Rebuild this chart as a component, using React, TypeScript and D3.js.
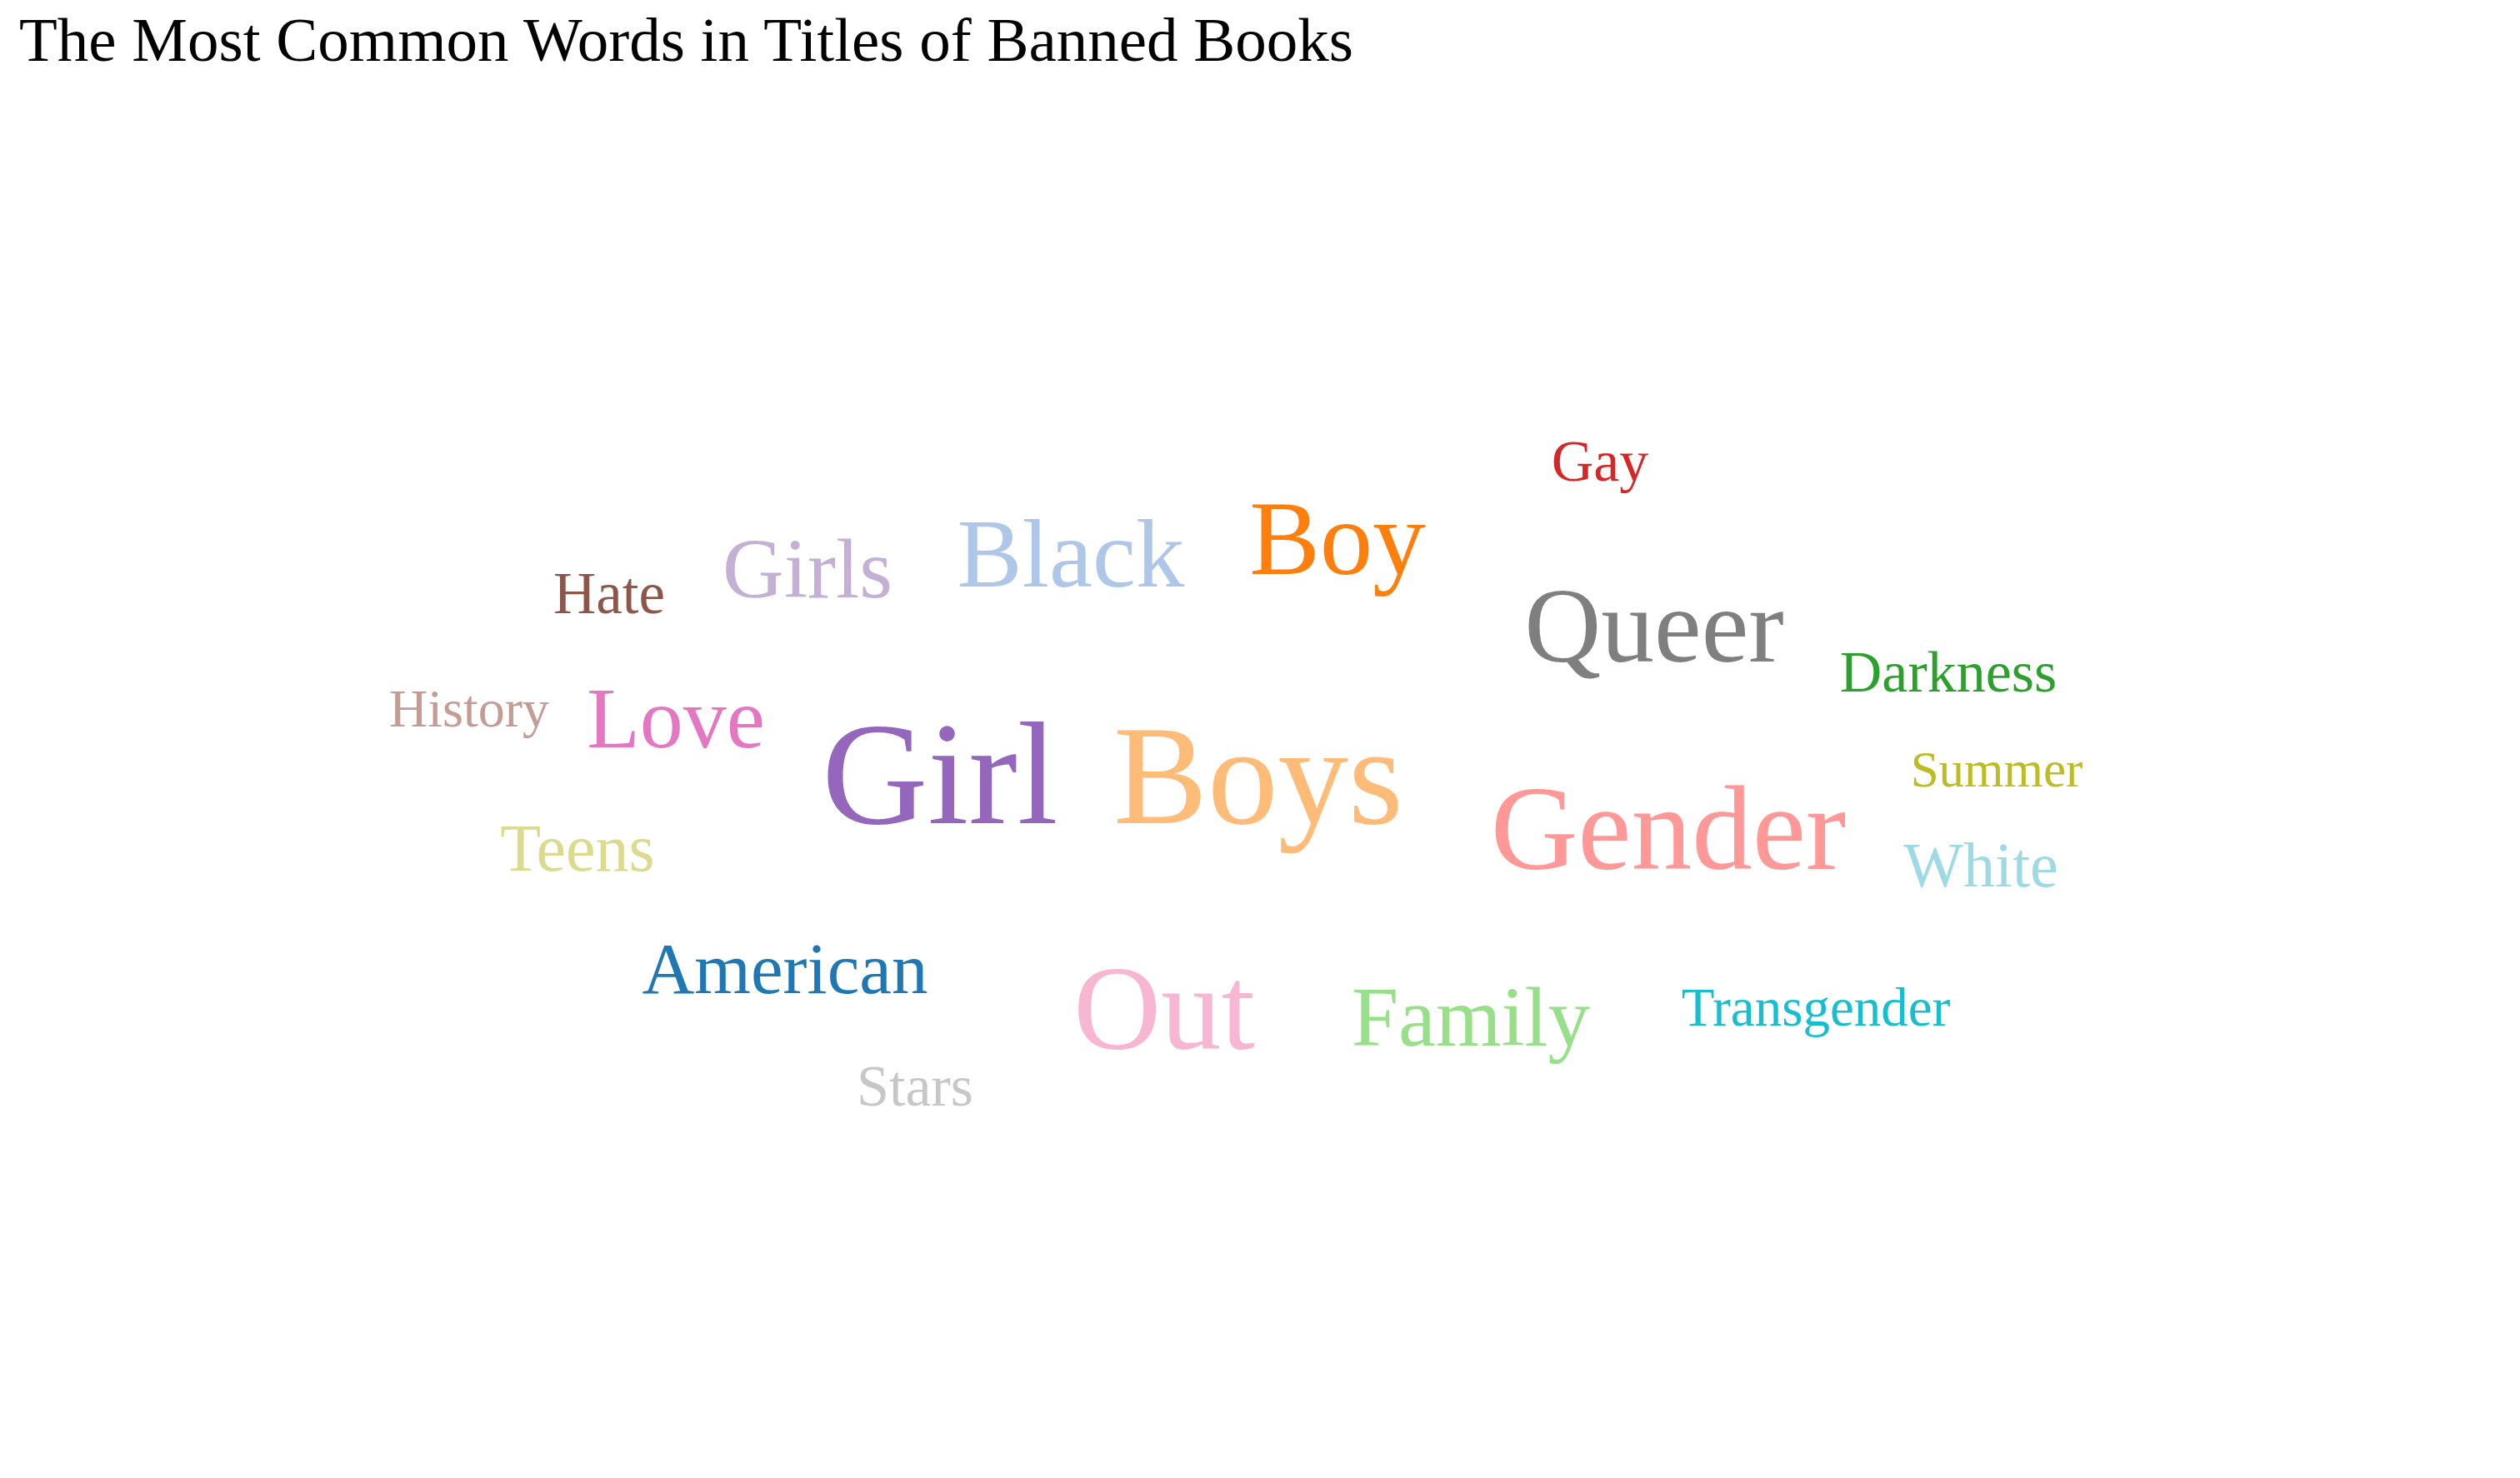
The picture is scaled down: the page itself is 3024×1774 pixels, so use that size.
import React, { useEffect, useRef } from 'react';
import * as d3 from 'd3';

// words in the cloud (alphabetical, coloured by index with category20)
const words = [
    'American', 'Black', 'Boy', 'Boys', 'Darkness', 'Family', 'Gay', 'Gender', 'Girl', 'Girls',
    'Hate', 'History', 'Love', 'Out', 'Queer', 'Stars', 'Summer', 'Teens', 'Transgender', 'White',
];
// relative weight of each word (drives font size)
const weights = [87, 117, 127, 169, 70, 101, 70, 145, 176, 102, 71, 64, 104, 145, 127.5, 70, 61, 80, 65, 76];
// cloud layout output (offsets from the cloud centre)
const layoutX = [-570, -227, 93, -2, 826, 253, 408, 490, -384, -543, -781, -949, -701, -115, 473, -414, 884, -819, 667, 865];
const layoutY = [305, -183, -198, 101, -57, 368, -310, 156, 101, -170, -151, -15, 10, 372, -93, 440, 57, 158, 344, 177];

const category20 = [
    '#1f77b4', '#aec7e8', '#ff7f0e', '#ffbb78', '#2ca02c', '#98df8a', '#d62728', '#ff9896', '#9467bd', '#c5b0d5',
    '#8c564b', '#c49c94', '#e377c2', '#f7b6d2', '#7f7f7f', '#c7c7c7', '#bcbd22', '#dbdb8d', '#17becf', '#9edae5',
];

const title = 'The Most Common Words in Titles of Banned Books';

const width = 3008;
const height = 1758;

const WordCloud: React.FC = () => {
    const svgRef = useRef<SVGSVGElement | null>(null);

    useEffect(() => {
        const svg = d3.select(svgRef.current)
            .attr('width', width)
            .attr('height', height);
        svg.selectAll('*').remove();

        const color = d3.scaleOrdinal<string, string>().domain(words).range(category20);
        const fontSize = d3.scaleLinear()
            .domain([d3.min(weights)!, d3.max(weights)!])
            .range([d3.min(weights)!, d3.max(weights)!]);
        const xScale = d3.scaleLinear().domain([-width / 2, width / 2]).range([0, width]);
        const yScale = d3.scaleLinear().domain([-height / 2, height / 2]).range([0, height]);

        svg.append('text')
            .attr('x', 15)
            .attr('y', 65)
            .attr('font-family', '"Liberation Serif", "Times New Roman", serif')
            .attr('font-size', 75)
            .attr('fill', '#000')
            .text(title);

        const data = words.map((w, i) => ({ text: w, weight: weights[i], x: layoutX[i], y: layoutY[i] }));

        svg.append('g')
            .selectAll('text')
            .data(data)
            .join('text')
            .attr('text-anchor', 'middle')
            .attr('font-family', '"Liberation Serif", "Times New Roman", serif')
            .attr('font-size', d => fontSize(d.weight))
            .attr('fill', d => color(d.text))
            .attr('transform', d => `translate(${xScale(d.x)},${yScale(d.y)})`)
            .text(d => d.text);
    }, []);

    return <svg ref={svgRef} style={{ display: 'block', overflow: 'visible' }}></svg>;
};

export default function App() {
    return <WordCloud />;
}
